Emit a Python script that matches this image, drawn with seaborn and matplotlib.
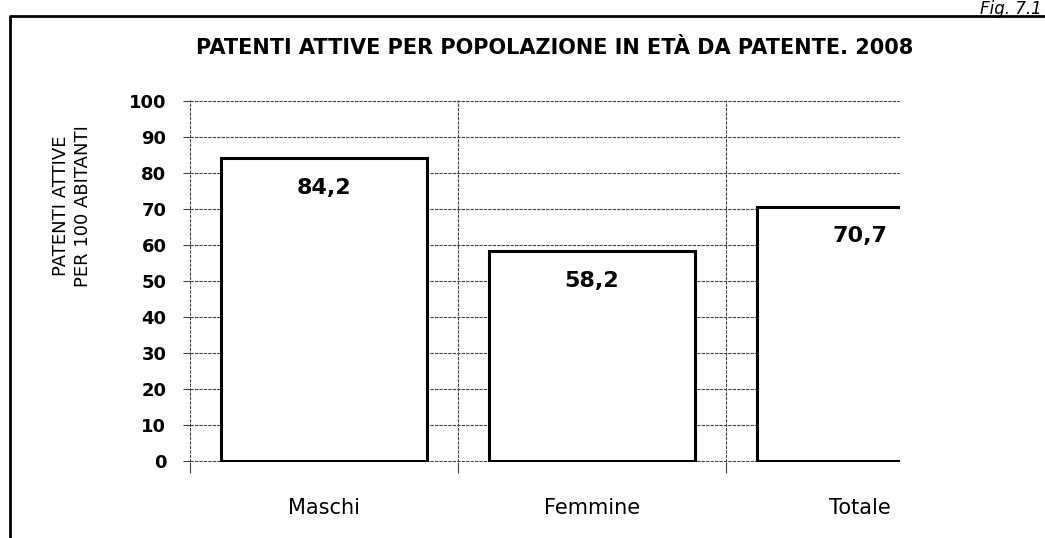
# Patenti attive per popolazione in eta da patente, 2008
import matplotlib
matplotlib.use('Agg')
import matplotlib.pyplot as plt
import seaborn as sns
from matplotlib.lines import Line2D

categorie = ['Maschi', 'Femmine', 'Totale']
valori = [84.2, 58.2, 70.7]
etichette = [f"{v:.1f}".replace('.', ',') for v in valori]
yticks = list(range(0, 101, 10))

sns.set_style('white')
plt.rcParams['font.family'] = ['DejaVu Sans']
plt.rcParams['text.color'] = 'black'
plt.rcParams['xtick.labelcolor'] = 'black'
plt.rcParams['ytick.labelcolor'] = 'black'

fig = plt.figure(figsize=(10.45, 5.38), dpi=100)
ax = fig.add_axes([190 / 1045, 1 - 462 / 538, 710 / 1045, 362 / 538])

sns.barplot(x=categorie, y=valori, color='white', saturation=1,
            edgecolor='black', linewidth=2.2, width=0.77, ax=ax)

for i, (v, lab) in enumerate(zip(valori, etichette)):
    ax.annotate(lab, (i, v), xytext=(0, -21.5), textcoords='offset points',
                ha='center', va='center', fontsize=16, fontweight='bold')

# axes range: right side is cut off like in the scan
ax.set_ylim(-0.3, 100.3)
ax.set_xlim(-0.5, -0.5 + 710 / 268)
ax.set_yticks(yticks)
ax.set_yticklabels([str(t) for t in yticks], fontsize=13, fontweight='bold')
ax.set_xticks(range(len(categorie)))
ax.set_xticklabels(categorie, fontsize=15)
ax.set_xticks([-0.5, 0.5, 1.5], minor=True)

grid_kw = dict(color='#444444', linestyle=(0, (3, 1)), linewidth=0.8)
ax.set_axisbelow(True)
ax.grid(axis='y', which='major', **grid_kw)
ax.grid(axis='x', which='minor', **grid_kw)
ax.grid(axis='x', which='major', visible=False)
ax.tick_params(axis='y', which='major', length=5, width=0.8, color='#444444',
               direction='out', pad=12, left=True)
ax.tick_params(axis='x', which='major', length=0, pad=26)
ax.tick_params(axis='x', which='minor', length=8, width=0.8, color='#444444',
               direction='out', bottom=True)
ax.set_xlabel('')
for s in ax.spines.values():
    s.set_visible(False)

fig.text(555 / 1045, 1 - 48 / 538,
         'PATENTI ATTIVE PER POPOLAZIONE IN ETÀ DA PATENTE. 2008',
         ha='center', va='center', fontsize=15, fontweight='bold')
fig.text(72 / 1045, 1 - 206 / 538, 'PATENTI ATTIVE\nPER 100 ABITANTI',
         rotation=90, ha='center', va='center', fontsize=13,
         multialignment='center', linespacing=1.25)
fig.text(1042 / 1045, 1.0, 'Fig. 7.1', ha='right', va='top',
         fontsize=12, style='italic')

# frame of the scanned page
fig.add_artist(Line2D([10 / 1045, 10 / 1045, 1.0], [0.0, 1 - 16 / 538, 1 - 16 / 538],
                      transform=fig.transFigure, color='black', linewidth=2))

fig.savefig('out.png', dpi=100)
